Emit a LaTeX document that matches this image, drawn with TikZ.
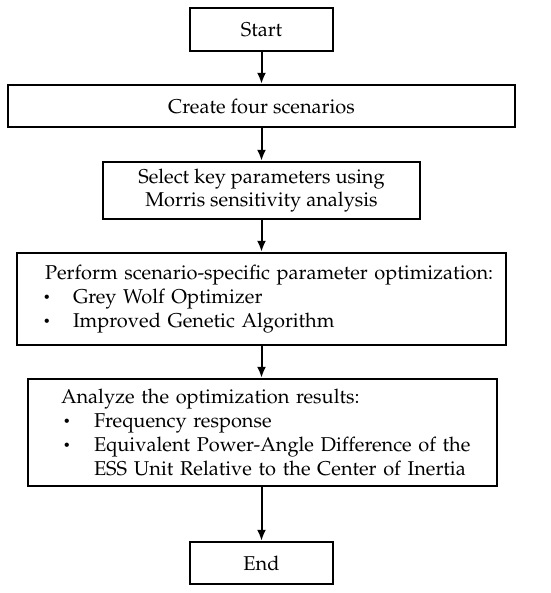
\documentclass[tikz,border=0pt]{standalone}
\usepackage[T1]{fontenc}
\usepackage{mathpazo}
\usepackage{graphicx}
\usetikzlibrary{arrows.meta}
\newcommand{\blt}{\raisebox{1.8pt}{\scalebox{0.62}{\textbullet}}}
\tikzset{
  box/.style={draw=black, line width=2.4pt, inner sep=0pt, fill=white,
    font=\fontsize{20}{23.8}\selectfont},
  flow/.style={line width=2pt, -{Latex[length=11pt,width=9pt]}},
}
\begin{document}
\begin{tikzpicture}[x=1pt,y=-1pt]
\useasboundingbox[fill=white] (0,0) rectangle (550,593);
\node[box, minimum width=143pt, minimum height=43pt] (start) at (261.5,29.5) {Start};
\node[box, minimum width=507pt, minimum height=42pt] (create) at (261.5,106) {Create four scenarios};
\node[box, minimum width=317pt, minimum height=57pt, align=center] (select) at (261.5,190.5)
  {Select key parameters using\\Morris sensitivity analysis};
\node[box, minimum width=489pt, minimum height=92pt, text width=489pt, align=left] (perform) at (261.5,299)
  {\hspace*{28pt}Perform scenario-specific parameter optimization:\\
   \hspace*{26pt}\makebox[30pt][l]{\blt}Grey Wolf Optimizer\\
   \hspace*{26pt}\makebox[30pt][l]{\blt}Improved Genetic Algorithm};
\node[box, minimum width=469pt, minimum height=107pt, text width=469pt, align=left] (analyze) at (262.5,432.5)
  {\hspace*{33pt}Analyze the optimization results:\\
   \hspace*{35pt}\makebox[31pt][l]{\blt}Frequency response\\
   \hspace*{35pt}\makebox[31pt][l]{\blt}Equivalent Power-Angle Difference of the\\
   \hspace*{66pt}ESS Unit Relative to the Center of Inertia};
\node[box, minimum width=143pt, minimum height=42pt] (end) at (261.5,563) {End};
\draw[flow] (start) -- (create);
\draw[flow] (create) -- (select);
\draw[flow] (select) -- (perform);
\draw[flow] (perform.south) -- (perform.south |- analyze.north);
\draw[flow] (analyze.south -| end.north) -- (end.north);
\end{tikzpicture}
\end{document}
